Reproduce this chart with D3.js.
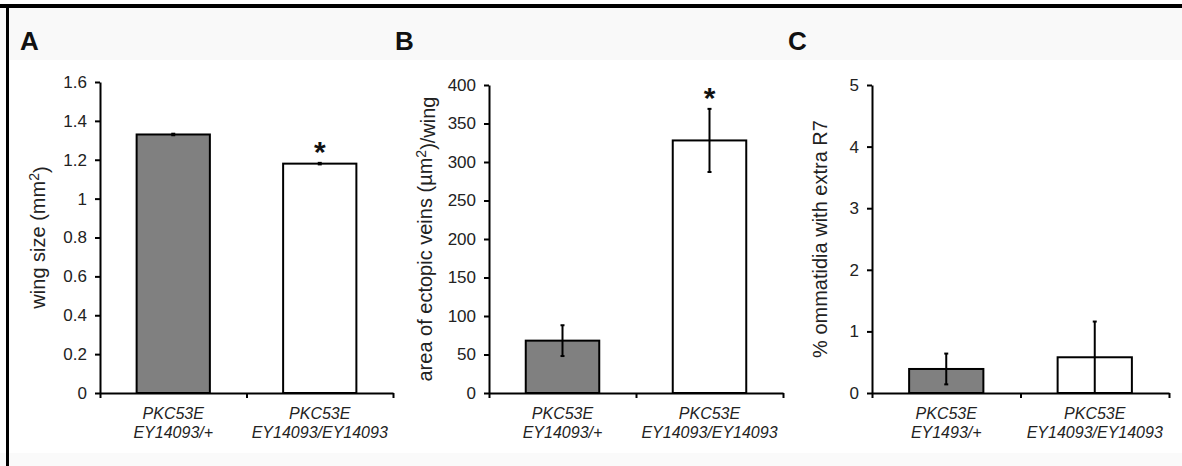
<!DOCTYPE html>
<html>
<head>
<meta charset="utf-8">
<script src="https://cdn.jsdelivr.net/npm/d3@7"></script>
<style>
  body { margin: 0; background: #fff; }
  svg { display: block; font-family: "Liberation Sans", Arial, sans-serif; }
</style>
</head>
<body>
<div id="chart"></div>
<script>
// data
var genotypesAB = [["PKC53E", "EY14093/+"], ["PKC53E", "EY14093/EY14093"]];
var genotypesC = [["PKC53E", "EY1493/+"], ["PKC53E", "EY14093/EY14093"]];

var wingSize = [1.33, 1.18];
var wingSizeErr = [0.004, 0.004];
var veinArea = [68, 328];
var veinAreaErr = [20, 41];
var extraR7 = [0.39, 0.58];
var extraR7Err = [0.25, 0.58];

var ticksA = [0, 0.2, 0.4, 0.6, 0.8, 1, 1.2, 1.4, 1.6];
var ticksB = [0, 50, 100, 150, 200, 250, 300, 350, 400];
var ticksC = [0, 1, 2, 3, 4, 5];

var signifA = [false, true];
var signifB = [false, true];
var signifC = [false, false];

var barColors = ["#808080", "#ffffff"];

var width = 1182, height = 466;

var svg = d3.select("#chart").append("svg")
  .attr("width", width)
  .attr("height", height);

// background strips and frame
svg.append("rect").attr("width", width).attr("height", height).attr("fill", "#fff");
svg.append("rect").attr("x", 0).attr("y", 7).attr("width", width).attr("height", 53).attr("fill", "#f9f9f9");
svg.append("rect").attr("x", 0).attr("y", 453).attr("width", width).attr("height", 13).attr("fill", "#fafafa");
svg.append("rect").attr("x", 0).attr("y", 4).attr("width", width).attr("height", 4).attr("fill", "#000");
svg.append("rect").attr("x", 6).attr("y", 4).attr("width", 3).attr("height", height - 4).attr("fill", "#000");

var panels = [
  { letter: "A", lx: 20, x0: 100, x1: 393, yTop: 82, yBot: 393, cats: genotypesAB,
    values: wingSize, errs: wingSizeErr, ticks: ticksA, max: 1.6, stars: signifA,
    labelX: 38, label: ["wing size (mm", "2", ")"] },
  { letter: "B", lx: 395, x0: 489, x1: 783, yTop: 85, yBot: 393, cats: genotypesAB,
    values: veinArea, errs: veinAreaErr, ticks: ticksB, max: 400, stars: signifB,
    labelX: 425, label: ["area of ectopic veins (\u00b5m", "2", ")/wing"] },
  { letter: "C", lx: 788, x0: 872, x1: 1169, yTop: 85, yBot: 393, cats: genotypesC,
    values: extraR7, errs: extraR7Err, ticks: ticksC, max: 5, stars: signifC,
    labelX: 820, label: ["% ommatidia with extra R7", "", ""] }
];

panels.forEach(function(p) {
  var g = svg.append("g");

  var y = d3.scaleLinear().domain([0, p.max]).range([p.yBot, p.yTop]);
  var x = d3.scaleBand().domain(d3.range(p.cats.length))
    .range([p.x0, p.x1]).paddingInner(0.5).paddingOuter(0.25);
  var xEdge = d3.scaleLinear().domain([0, p.cats.length]).range([p.x0, p.x1]);

  // panel letter
  g.append("text")
    .attr("x", p.lx).attr("y", 50)
    .attr("font-size", 26).attr("font-weight", "bold")
    .attr("fill", "#111")
    .text(p.letter);

  // y axis
  var yAxis = g.append("g")
    .attr("transform", "translate(" + p.x0 + ",0)")
    .call(d3.axisLeft(y).tickValues(p.ticks).tickFormat(d3.format("~g"))
      .tickSize(5).tickSizeOuter(0).tickPadding(8));
  yAxis.selectAll("path, line").attr("stroke", "#000").attr("stroke-width", 2);
  yAxis.selectAll("text").attr("font-size", 17).attr("fill", "#222")
    .attr("font-family", "Liberation Sans, Arial, sans-serif");

  // bars
  g.selectAll("rect.bar").data(p.values).enter().append("rect")
    .attr("class", "bar")
    .attr("x", function(d, i) { return x(i); })
    .attr("y", function(d) { return y(d); })
    .attr("width", x.bandwidth())
    .attr("height", function(d) { return y(0) - y(d); })
    .attr("fill", function(d, i) { return barColors[i]; })
    .attr("stroke", "#000").attr("stroke-width", 2);

  // error bars
  p.values.forEach(function(v, i) {
    var cx = x(i) + x.bandwidth() / 2;
    var lo = Math.max(0, v - p.errs[i]), hi = v + p.errs[i];
    g.append("line")
      .attr("x1", cx).attr("x2", cx)
      .attr("y1", y(lo)).attr("y2", y(hi))
      .attr("stroke", "#000").attr("stroke-width", 2);
    [lo, hi].forEach(function(e) {
      g.append("line")
        .attr("x1", cx - 2).attr("x2", cx + 2)
        .attr("y1", y(e)).attr("y2", y(e))
        .attr("stroke", "#000").attr("stroke-width", 2);
    });
    if (p.stars[i]) {
      g.append("text")
        .attr("x", cx).attr("y", y(hi) - 1)
        .attr("text-anchor", "middle")
        .attr("font-size", 30).attr("font-weight", "bold")
        .attr("fill", "#111")
        .text("*");
    }
  });

  // x axis, ticks on category edges
  var xAxis = g.append("g")
    .attr("transform", "translate(0," + p.yBot + ")")
    .call(d3.axisBottom(xEdge).tickValues(d3.range(p.cats.length + 1))
      .tickFormat("").tickSize(5).tickSizeOuter(0));
  xAxis.selectAll("path, line").attr("stroke", "#000").attr("stroke-width", 2);

  // category labels
  p.cats.forEach(function(c, i) {
    var cx = x(i) + x.bandwidth() / 2;
    c.forEach(function(line, k) {
      g.append("text")
        .attr("x", cx).attr("y", 419 + k * 19)
        .attr("text-anchor", "middle")
        .attr("font-size", 16).attr("font-style", "italic")
        .attr("fill", "#222")
        .text(line);
    });
  });

  // y axis title
  var t = g.append("text")
    .attr("transform", "translate(" + p.labelX + "," + ((p.yTop + p.yBot) / 2) + ") rotate(-90)")
    .attr("text-anchor", "middle")
    .attr("dy", "0.35em")
    .attr("font-size", 20)
    .attr("fill", "#222");
  t.append("tspan").text(p.label[0]);
  if (p.label[1]) {
    t.append("tspan").attr("font-size", 14).attr("dy", "-0.45em").text(p.label[1]);
    t.append("tspan").attr("dy", "0.45em").text(p.label[2]);
  }
});
</script>
</body>
</html>
